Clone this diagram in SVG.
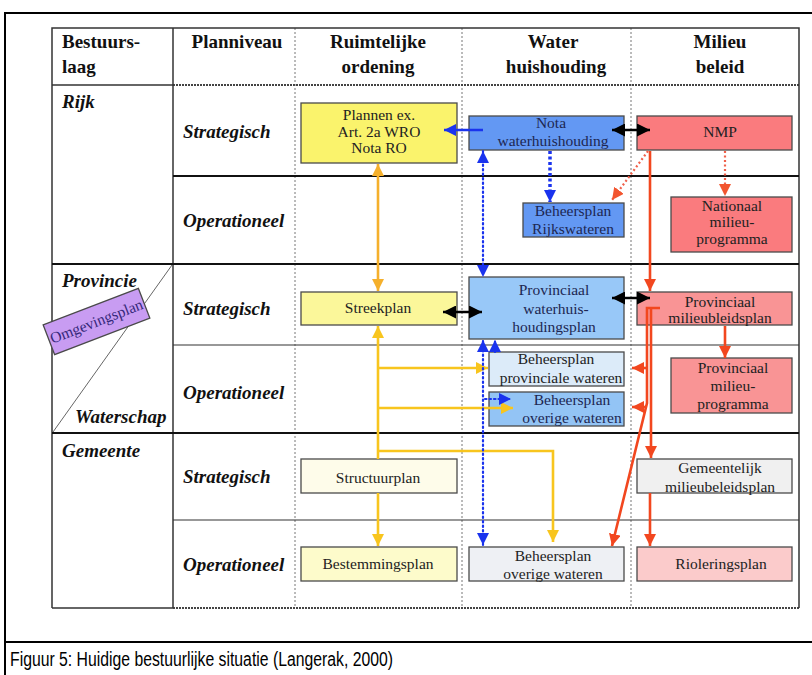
<svg xmlns="http://www.w3.org/2000/svg" width="812" height="675" viewBox="0 0 812 675">
  <style>
    text { font-family: "Liberation Serif", "Times New Roman", serif; fill: #111; }
    .hdr { font-size: 19px; font-weight: bold; }
    .lbl { font-size: 19px; font-weight: bold; font-style: italic; }
    .bt { font-size: 15.5px; text-anchor: middle; fill: #222; }
    .bt-blue { font-size: 15.5px; text-anchor: middle; fill: #1d2752; }
    .mid { text-anchor: middle; }
    .box { stroke: #4a4a4a; stroke-width: 1.3; }
    .frame { stroke: #000; stroke-width: 2; fill: none; }
    .grid { stroke: #333; stroke-width: 1.5; fill: none; }
    .row-thick { stroke: #111; stroke-width: 2.2; }
    .row-thin { stroke: #333; stroke-width: 1.2; }
    .col-dot { stroke: #777; stroke-width: 1; stroke-dasharray: 2 2; }
    .dense { stroke: #444; stroke-width: 2; stroke-dasharray: 2 1; }
    .c-orange { stroke: #F5B02C; stroke-width: 2.6; fill: none; }
    .c-yellow { stroke: #F8C51E; stroke-width: 2.6; fill: none; }
    .c-blue { stroke: #1a33ee; stroke-width: 2.6; fill: none; }
    .c-blue-dot { stroke: #1a33ee; stroke-width: 2.2; stroke-dasharray: 1.5 3; stroke-linecap: round; fill: none; }
    .c-blue-sq { stroke: #1a33ee; stroke-width: 3.5; stroke-dasharray: 3 2.5; fill: none; }
    .c-black { stroke: #000; stroke-width: 2.6; fill: none; }
    .c-red { stroke: #F2471F; stroke-width: 2.6; fill: none; }
    .c-red-dot { stroke: #F0604A; stroke-width: 2.2; stroke-dasharray: 2 2.5; fill: none; }
    .caption { font-family: "Liberation Sans", Arial, sans-serif; font-size: 20px; fill: #000; }
  </style>
  <defs>
    <marker id="ah-orange" viewBox="0 0 10 10" refX="10" refY="5" markerWidth="12" markerHeight="12" markerUnits="userSpaceOnUse" orient="auto-start-reverse">
      <path d="M0,0 L10,5 L0,10 z" fill="#F5B02C"/>
    </marker>
    <marker id="ah-yellow" viewBox="0 0 10 10" refX="10" refY="5" markerWidth="12" markerHeight="12" markerUnits="userSpaceOnUse" orient="auto-start-reverse">
      <path d="M0,0 L10,5 L0,10 z" fill="#F8C51E"/>
    </marker>
    <marker id="ah-blue" viewBox="0 0 10 10" refX="10" refY="5" markerWidth="12" markerHeight="12" markerUnits="userSpaceOnUse" orient="auto-start-reverse">
      <path d="M0,0 L10,5 L0,10 z" fill="#1a33ee"/>
    </marker>
    <marker id="ah-black" viewBox="0 0 10 10" refX="10" refY="5" markerWidth="13" markerHeight="13" markerUnits="userSpaceOnUse" orient="auto-start-reverse">
      <path d="M0,0 L10,5 L0,10 z" fill="#000"/>
    </marker>
    <marker id="ah-red" viewBox="0 0 10 10" refX="10" refY="5" markerWidth="12" markerHeight="12" markerUnits="userSpaceOnUse" orient="auto-start-reverse">
      <path d="M0,0 L10,5 L0,10 z" fill="#F2471F"/>
    </marker>
    <marker id="ah-red-light" viewBox="0 0 10 10" refX="10" refY="5" markerWidth="12" markerHeight="12" markerUnits="userSpaceOnUse" orient="auto-start-reverse">
      <path d="M0,0 L10,5 L0,10 z" fill="#F2552F"/>
    </marker>
  </defs>

  <rect width="812" height="675" fill="#fff"/>

  <!-- page frame and caption -->
  <g id="frame">
    <path class="frame" d="M5,676 V13 H813"/>
    <path class="frame" d="M5,642 H813"/>
    <text class="caption" x="10" y="666" textLength="383" lengthAdjust="spacingAndGlyphs">Figuur 5: Huidige bestuurlijke situatie (Langerak, 2000)</text>
  </g>

  <!-- table grid -->
  <g id="table">
    <line class="col-dot" x1="295" y1="28" x2="295" y2="608"/>
    <line class="col-dot" x1="462" y1="28" x2="462" y2="608"/>
    <line class="col-dot" x1="631" y1="28" x2="631" y2="608"/>
    <line class="dense" x1="173" y1="85" x2="799" y2="85"/>
    <line class="dense" x1="173" y1="608" x2="799" y2="608"/>
    <line class="grid" x1="52" y1="85" x2="173" y2="85"/>
    <line class="grid" x1="52" y1="608" x2="173" y2="608"/>
    <path class="grid" d="M52,608 V28 H799 V608"/>
    <line class="grid" x1="173" y1="28" x2="173" y2="608"/>
    <line class="row-thick" x1="173" y1="176" x2="799" y2="176"/>
    <line class="row-thick" x1="52" y1="264" x2="799" y2="264"/>
    <line class="row-thin" x1="173" y1="345" x2="799" y2="345"/>
    <line class="row-thick" x1="52" y1="433" x2="799" y2="433"/>
    <line class="row-thin" x1="173" y1="520" x2="799" y2="520"/>
    <line x1="53" y1="432" x2="172" y2="265" stroke="#666" stroke-width="1"/>

    <text class="hdr" x="62" y="48">Bestuurs-</text>
    <text class="hdr" x="62" y="73">laag</text>
    <text class="hdr mid" x="237" y="48">Planniveau</text>
    <text class="hdr mid" x="378" y="48">Ruimtelijke</text>
    <text class="hdr mid" x="378" y="73">ordening</text>
    <text class="hdr mid" x="553" y="48">Water</text>
    <text class="hdr mid" x="556" y="73">huishouding</text>
    <text class="hdr mid" x="720" y="48">Milieu</text>
    <text class="hdr mid" x="720" y="73">beleid</text>

    <text class="lbl" x="62" y="108">Rijk</text>
    <text class="lbl" x="62" y="287">Provincie</text>
    <text class="lbl" x="75" y="423">Waterschap</text>
    <text class="lbl" x="62" y="457">Gemeente</text>
    <text class="lbl" x="183" y="138">Strategisch</text>
    <text class="lbl" x="183" y="227">Operationeel</text>
    <text class="lbl" x="183" y="315">Strategisch</text>
    <text class="lbl" x="183" y="399">Operationeel</text>
    <text class="lbl" x="183" y="483">Strategisch</text>
    <text class="lbl" x="183" y="571">Operationeel</text>
  </g>

  <!-- plan nodes -->
  <g id="omgevingsplan" transform="translate(96.5,321.5) rotate(-21)">
    <rect class="box" x="-51" y="-16" width="102" height="32" fill="#C89CF2"/>
    <text x="0" y="5" style="font-size:15.5px; fill:#35287a" text-anchor="middle">Omgevingsplan</text>
  </g>

  <g id="plannen-wro">
    <rect class="box" x="301" y="103" width="156" height="60" fill="#FAF36C"/>
    <text class="bt" x="379" y="120">Plannen ex.</text>
    <text class="bt" x="379" y="136.5">Art. 2a WRO</text>
    <text class="bt" x="379" y="153">Nota RO</text>
  </g>
  <g id="nota-water">
    <rect class="box" x="469" y="116" width="155" height="34" fill="#6398F3"/>
    <text class="bt-blue" x="551" y="128">Nota</text>
    <text class="bt-blue" x="553" y="146">waterhuishouding</text>
  </g>
  <g id="nmp">
    <rect class="box" x="637" y="116" width="155" height="34" fill="#FA7B7E"/>
    <text class="bt" x="720" y="137">NMP</text>
  </g>
  <g id="beheer-rijk">
    <rect class="box" x="523" y="203" width="101" height="34" fill="#6398F3"/>
    <text class="bt-blue" x="573" y="216">Beheersplan</text>
    <text class="bt-blue" x="573" y="234">Rijkswateren</text>
  </g>
  <g id="nat-milieuprogramma">
    <rect class="box" x="671" y="197" width="121" height="55" fill="#FA7B7E"/>
    <text class="bt" x="732" y="210.5">Nationaal</text>
    <text class="bt" x="732" y="227">milieu-</text>
    <text class="bt" x="732" y="244">programma</text>
  </g>
  <g id="streekplan">
    <rect class="box" x="301" y="292" width="156" height="33" fill="#FBF79A"/>
    <text class="bt" x="378" y="313">Streekplan</text>
  </g>
  <g id="prov-water">
    <rect class="box" x="469" y="277" width="155" height="62" fill="#98C8F8"/>
    <text class="bt-blue" x="554" y="295">Provinciaal</text>
    <text class="bt-blue" x="556" y="313.5">waterhuis-</text>
    <text class="bt-blue" x="554" y="332">houdingsplan</text>
  </g>
  <g id="prov-milieu">
    <rect class="box" x="637" y="292" width="155" height="33" fill="#F99495"/>
    <text class="bt" x="720" y="306.5">Provinciaal</text>
    <text class="bt" x="720" y="322.5">milieubleidsplan</text>
  </g>
  <g id="beheer-prov">
    <rect class="box" x="489" y="352" width="135" height="34" fill="#DCEBF9"/>
    <text class="bt" x="556" y="364">Beheersplan</text>
    <text class="bt" x="561" y="382.5">provinciale wateren</text>
  </g>
  <g id="beheer-overig-ws">
    <rect class="box" x="489" y="392" width="135" height="34" fill="#93C4F5"/>
    <text class="bt-blue" x="572" y="405">Beheersplan</text>
    <text class="bt-blue" x="572" y="422.5">overige wateren</text>
  </g>
  <g id="prov-milieuprogramma">
    <rect class="box" x="671" y="358" width="121" height="55" fill="#F99495"/>
    <text class="bt" x="733" y="373">Provinciaal</text>
    <text class="bt" x="733" y="391">milieu-</text>
    <text class="bt" x="733" y="409">programma</text>
  </g>
  <g id="structuurplan">
    <rect class="box" x="301" y="459" width="156" height="34" fill="#FEFCEA"/>
    <text class="bt" x="378" y="483">Structuurplan</text>
  </g>
  <g id="gem-milieu">
    <rect class="box" x="637" y="459" width="155" height="34" fill="#F0F0F0"/>
    <text class="bt" x="720" y="473">Gemeentelijk</text>
    <text class="bt" x="720" y="491.5">milieubeleidsplan</text>
  </g>
  <g id="bestemmingsplan">
    <rect class="box" x="301" y="547" width="156" height="34" fill="#FDFBCB"/>
    <text class="bt" x="378" y="569">Bestemmingsplan</text>
  </g>
  <g id="beheer-overig-gem">
    <rect class="box" x="469" y="547" width="155" height="34" fill="#EEF0F4"/>
    <text class="bt" x="553" y="560.5">Beheersplan</text>
    <text class="bt" x="553" y="579">overige wateren</text>
  </g>
  <g id="rioleringsplan">
    <rect class="box" x="637" y="547" width="155" height="34" fill="#FBCBCB"/>
    <text class="bt" x="721" y="569">Rioleringsplan</text>
  </g>

  <!-- connectors -->
  <g id="connectors">
    <!-- spatial planning chain -->
    <path class="c-orange" d="M378,164 V291" marker-start="url(#ah-orange)" marker-end="url(#ah-orange)"/>
    <path class="c-yellow" d="M378,326 V459" marker-start="url(#ah-yellow)"/>
    <path class="c-yellow" d="M378,493 V546" marker-end="url(#ah-yellow)"/>
    <path class="c-yellow" d="M378,368 H488" marker-end="url(#ah-yellow)"/>
    <path class="c-yellow" d="M378,408 H513" marker-end="url(#ah-yellow)"/>
    <path class="c-yellow" d="M378,451 H553 V542" marker-end="url(#ah-yellow)"/>

    <!-- water management -->
    <path class="c-blue" d="M483,130 H444" marker-end="url(#ah-blue)"/>
    <path class="c-blue-dot" d="M483,151 V277" marker-start="url(#ah-blue)" marker-end="url(#ah-blue)"/>
    <path class="c-blue-dot" d="M483,545 V340" marker-start="url(#ah-blue)" marker-end="url(#ah-blue)"/>
    <path class="c-blue-dot" d="M495,352 V340" marker-end="url(#ah-blue)"/>
    <path class="c-blue-dot" d="M485,399 H511" marker-end="url(#ah-blue)"/>
    <path class="c-blue-sq" d="M550,151 V202" marker-end="url(#ah-blue)"/>

    <!-- mutual tuning -->
    <path class="c-black" d="M612,130 H650" marker-start="url(#ah-black)" marker-end="url(#ah-black)"/>
    <path class="c-black" d="M443,312 H482" marker-start="url(#ah-black)" marker-end="url(#ah-black)"/>
    <path class="c-black" d="M612,298 H650" marker-start="url(#ah-black)" marker-end="url(#ah-black)"/>

    <!-- environmental policy -->
    <path class="c-red-dot" d="M648,151 L612,200" marker-end="url(#ah-red-light)"/>
    <path class="c-red-dot" d="M725,151 V196" marker-end="url(#ah-red-light)"/>
    <path class="c-red" d="M650,151 V291" marker-end="url(#ah-red)"/>
    <path class="c-red" d="M725,326 V358" marker-end="url(#ah-red)"/>
    <path class="c-red" d="M660,308 H647 V403 L612,546" marker-end="url(#ah-red)"/>
    <path class="c-red" d="M651,308 V458" marker-end="url(#ah-red)"/>
    <path class="c-red" d="M647,368 H632" marker-end="url(#ah-red)"/>
    <path class="c-red" d="M647,407 H632" marker-end="url(#ah-red)"/>
    <path class="c-red" d="M650,493 V546" marker-end="url(#ah-red)"/>
  </g>
</svg>
